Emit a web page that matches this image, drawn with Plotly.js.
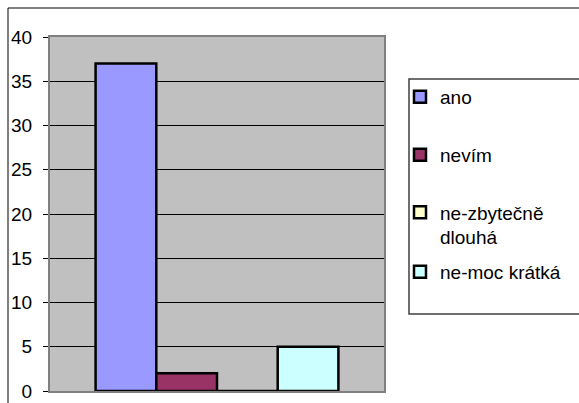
<!DOCTYPE html>
<html>
<head>
<meta charset="utf-8">
<script src="https://cdn.plot.ly/plotly-3.0.1.min.js"></script>
<style>html,body{margin:0;padding:0;background:#fff;}#chart{width:579px;height:403px;}</style>
</head>
<body>
<div id="chart"></div>
<script>
// Data
const categories = ["otázka"];
const seriesNames = ["ano", "nevím", "ne-zbytečně<br>dlouhá", "ne-moc krátká"];
const seriesValues = [37, 2, 0, 5];
const seriesColors = ["#9999FF", "#993366", "#FFFFCC", "#CCFFFF"];
const yTickVals = [0, 5, 10, 15, 20, 25, 30, 35, 40];

// Layout geometry (pixels)
const W = 579, H = 403;
const L = 50, R = 384, T = 37, B = 391;
const px2x = p => (p - L) / (R - L);
const py2y = p => (B - p) / (B - T);
const FONT = "Liberation Sans, Arial, sans-serif";
const FS = 19;

const legendNames = ["legend", "legend2", "legend3", "legend4"];
const legendCenters = [97, 155, 225, 272];

const traces = seriesNames.map((name, i) => ({
  type: "bar",
  name: name,
  x: categories,
  y: [seriesValues[i]],
  legend: legendNames[i],
  marker: { color: seriesColors[i], line: { color: "#000", width: 2.5 } },
  hoverinfo: "skip"
}));

const layout = {
  width: W, height: H,
  margin: { l: L, r: W - R, t: T, b: H - B, pad: 0 },
  paper_bgcolor: "#fff",
  plot_bgcolor: "#C0C0C0",
  font: { family: FONT, size: FS, color: "#000" },
  barmode: "group",
  bargap: 0.273,
  bargroupgap: 0,
  showlegend: true,
  xaxis: {
    type: "category",
    showticklabels: false,
    ticks: "",
    showgrid: false,
    zeroline: false,
    showline: true, linecolor: "#808080", linewidth: 2, mirror: true,
    fixedrange: true
  },
  yaxis: {
    range: [0, 40],
    tickvals: yTickVals,
    ticktext: yTickVals.map(String),
    ticks: "outside", ticklen: 5, tickcolor: "#000", tickwidth: 1,
    ticklabelstandoff: 7,
    tickfont: { family: FONT, size: FS, color: "#000" },
    showgrid: true, gridcolor: "#000", gridwidth: 1,
    zeroline: false,
    showline: true, linecolor: "#808080", linewidth: 2, mirror: true,
    fixedrange: true
  },
  shapes: [
    { type: "rect", xref: "paper", yref: "paper",
      x0: px2x(8), x1: px2x(620), y0: py2y(8), y1: py2y(440),
      line: { color: "#000", width: 1 }, fillcolor: "rgba(0,0,0,0)", layer: "below" },
    { type: "rect", xref: "paper", yref: "paper",
      x0: px2x(409), x1: px2x(620), y0: py2y(79), y1: py2y(314),
      line: { color: "#404040", width: 1.5 }, fillcolor: "rgba(0,0,0,0)", layer: "above" }
  ]
};

legendNames.forEach((ln, i) => {
  layout[ln] = {
    x: px2x(400), xanchor: "left",
    y: py2y(legendCenters[i]), yanchor: "middle",
    bgcolor: "rgba(0,0,0,0)", borderwidth: 0,
    valign: "top",
    font: { family: FONT, size: FS, color: "#000" }
  };
});

Plotly.newPlot("chart", traces, layout, { displayModeBar: false, staticPlot: true });
</script>
</body>
</html>
